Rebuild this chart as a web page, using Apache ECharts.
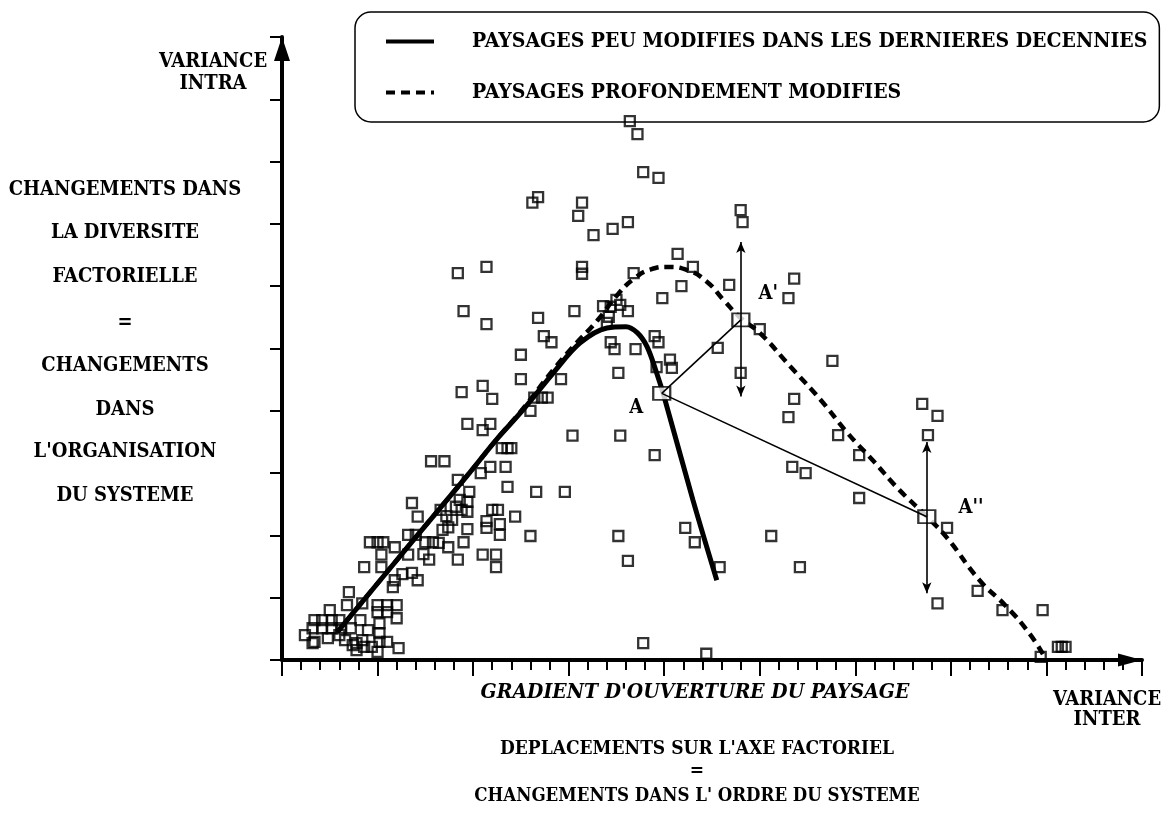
<!DOCTYPE html>
<html>
<head>
<meta charset="utf-8">
<script src="https://cdn.jsdelivr.net/npm/echarts@6/dist/echarts.min.js"></script>
<style>
html,body{margin:0;padding:0;background:#fff;}
#chart{width:1166px;height:813px;}
</style>
</head>
<body>
<div id="chart"></div>
<script>
// ---- data (x in minor-tick units of the factorial axis, y in tick units of variance intra) ----
const legendNames = ['PAYSAGES PEU MODIFIES DANS LES DERNIERES DECENNIES', 'PAYSAGES PROFONDEMENT MODIFIES'];

const lowCluster = [[3.5,1.09],[3.4,0.88],[2.5,0.80],[5.0,0.88],[5.5,0.88],[6.0,0.88],[5.0,0.77],[5.5,0.77],[6.0,0.67],
  [1.7,0.64],[2.1,0.64],[2.6,0.64],[3.0,0.64],[1.6,0.51],[2.1,0.51],[2.6,0.51],[3.6,0.51],[5.1,0.43],[5.1,0.59],
  [1.7,0.29],[3.9,0.27],[4.3,0.21],[4.7,0.21],[5.1,0.29],[5.5,0.29],[3.9,0.16],[5.0,0.13],[1.6,0.27],[3.0,0.40],
  [3.3,0.32],[3.7,0.24],[4.2,0.32],[3.1,0.51],[1.2,0.40],[2.4,0.35],[4.5,0.48],[4.1,0.64],[6.1,0.19],[5.8,1.17],
  [5.9,1.28],[4.2,0.91]];

const riseCluster = [[4.3,1.49],[5.2,1.49],[6.3,1.38],[6.8,1.40],[7.1,1.28],[5.2,1.69],[6.6,1.69],[7.4,1.70],[7.7,1.61],
  [9.2,1.61],[10.5,1.69],[11.2,1.69],[11.2,1.49],[4.6,1.89],[5.0,1.89],[5.3,1.89],[5.9,1.81],[6.6,2.01],[7.0,2.01],
  [7.5,1.89],[7.9,1.89],[8.2,1.88],[8.7,1.81],[9.5,1.89],[8.4,2.09],[8.7,2.13],[9.7,2.10],[10.7,2.23],[10.7,2.12],
  [11.4,2.18],[11.4,2.01],[13.0,1.99],[7.1,2.30],[8.6,2.31],[8.9,2.25],[12.2,2.30],[8.3,2.41],[11.0,2.41],[11.3,2.41],
  [9.1,2.46],[9.4,2.41],[9.7,2.38],[9.3,2.57],[9.7,2.54],[6.8,2.52],[9.8,2.70],[9.2,2.89],[11.8,2.78],[10.4,3.00],
  [10.9,3.10],[11.7,3.10],[11.5,3.40],[11.8,3.40],[12.0,3.40],[7.8,3.19],[8.5,3.19],[13.3,2.70],[14.8,2.70]];

const crestCluster = [[9.7,3.79],[10.9,3.79],[10.5,3.69],[13.0,4.00],[13.2,4.21],[13.6,4.21],[13.9,4.21],[9.4,4.30],
  [10.5,4.40],[11.0,4.19],[12.5,4.51],[14.6,4.51],[12.5,4.90],[13.7,5.20],[14.1,5.10],[13.4,5.49],[9.5,5.60],[10.7,5.39],
  [15.3,5.60],[16.8,5.68],[17.2,5.67],[17.7,5.70],[17.5,5.78],[18.1,5.60],[17.1,5.51],[17.0,5.41],[17.2,5.10],[17.4,4.99],
  [18.5,4.99],[19.5,5.20],[19.7,5.10],[19.6,4.70],[20.3,4.82],[20.4,4.69],[17.6,4.61],[15.2,3.60],[17.7,3.60],[19.5,3.29],
  [9.2,6.21],[10.7,6.31],[15.7,6.31],[15.7,6.20],[18.4,6.21],[19.9,5.81],[13.1,7.34],[13.4,7.43],[15.7,7.34],[15.5,7.13],
  [16.3,6.82],[17.3,6.92],[18.1,7.03],[18.2,8.65],[18.6,8.44],[18.9,7.83],[19.7,7.74]];

const rightCluster = [[20.7,6.52],[21.5,6.31],[20.9,6.00],[23.4,6.02],[24.0,7.22],[24.1,7.03],[26.8,6.12],[26.5,5.81],
  [25.0,5.31],[22.8,5.01],[24.0,4.61],[28.8,4.80],[26.8,4.19],[26.5,3.90],[29.1,3.61],[30.2,3.29],[26.7,3.10],[27.4,3.00],
  [30.2,2.60],[33.5,4.11],[34.3,3.92],[33.8,3.61],[34.8,2.12],[21.1,2.12],[21.6,1.89],[25.6,1.99],[27.1,1.49],[22.9,1.49],
  [34.3,0.91],[36.4,1.11],[37.7,0.80],[39.8,0.80],[40.6,0.21],[40.8,0.21],[41.0,0.21],[39.7,0.05],[17.6,1.99],[18.1,1.59],
  [18.9,0.27],[22.2,0.10]];

const solidCurve = [[2.9,0.45],[6.7,1.86],[9.8,3.00],[11.2,3.53],[12.6,4.01],[14.2,4.61],[15.6,5.09],
  [17.0,5.33],[18.0,5.35],[18.6,5.25],[19.1,5.03],[19.6,4.61],[20.0,4.22],[21.5,2.57],[22.75,1.28]];

const dashedCurve = [[2.9,0.45],[6.7,1.86],[9.8,3.00],[11.2,3.53],[12.6,4.03],[14.2,4.66],[15.2,5.02],
  [16.5,5.45],[17.6,5.88],[18.5,6.14],[19.3,6.27],[20.2,6.31],[21.2,6.26],[22.2,6.08],[23.1,5.78],[24.0,5.49],
  [25.0,5.25],[26.6,4.71],[28.2,4.17],[29.6,3.64],[30.9,3.21],[32.3,2.73],[33.75,2.30],[34.8,1.96],[36.5,1.28],
  [37.9,0.86],[39.1,0.43],[39.9,0.05]];

const centreNames = ['A', "A'", "A''"];
const centres = [[19.87,4.28],[24.01,5.46],[33.74,2.30]];
const spreadA1 = [6.71, 4.23];   // vertical range drawn through A'
const spreadA2 = [3.50, 1.07];   // vertical range drawn through A''

const xTicks = {min:0, max:45, interval:5};
const yTicks = {min:0, max:10, interval:1};

// ---- chart ----
const FONT = "'DejaVu Serif Condensed', 'Liberation Serif', serif";
const chart = echarts.init(document.getElementById('chart'));

function txt(text, x, y, size, italic) {
  return {
    type:'text', x:x, y:y, silent:true,
    style:{text:text, fill:'#000', font:(italic ? 'italic ' : '') + 'bold ' + size + 'px ' + FONT,
           textAlign:'center', textVerticalAlign:'middle'}
  };
}

const labelPos = [
  {position:'left', distance:9, offset:[0,14]},
  {position:'right', distance:8, offset:[0,-26]},
  {position:'right', distance:22, offset:[0,-9]}
];

const option = {
  backgroundColor:'#fff',
  animation:false,
  color:['#000'],
  grid:{left:282, right:24, top:37, bottom:153, containLabel:false},
  legend:{
    data:legendNames, orient:'vertical', left:355, top:12,
    itemWidth:48, itemHeight:20, itemGap:30,
    padding:[19,12,19,29], borderColor:'#000', borderWidth:1.5, borderRadius:16,
    selectedMode:false,
    itemStyle:{opacity:0},
    lineStyle:{width:4, color:'#000'},
    textStyle:{fontFamily:FONT, fontWeight:'bold', fontSize:21, color:'#000', padding:[0,0,0,33]}
  },
  xAxis:{
    type:'value', min:xTicks.min, max:xTicks.max, interval:xTicks.interval,
    axisLine:{show:true, lineStyle:{color:'#000', width:4}, symbol:['none','triangle'], symbolSize:[13,24], symbolOffset:[0,-12]},
    axisTick:{show:true, inside:false, length:16, lineStyle:{color:'#000', width:2}},
    minorTick:{show:true, splitNumber:5, length:10, lineStyle:{color:'#000', width:2}},
    axisLabel:{show:false}, splitLine:{show:false}
  },
  yAxis:{
    type:'value', min:yTicks.min, max:yTicks.max, interval:yTicks.interval,
    axisLine:{show:true, lineStyle:{color:'#000', width:4}, symbol:['none','triangle'], symbolSize:[16,24], symbolOffset:[0,-12]},
    axisTick:{show:true, inside:false, length:12, lineStyle:{color:'#000', width:2}},
    axisLabel:{show:false}, splitLine:{show:false}
  },
  series:[
    {
      type:'scatter', name:'releves', z:2, silent:true,
      data:[].concat(lowCluster, riseCluster, crestCluster, rightCluster),
      symbol:'rect', symbolSize:10,
      itemStyle:{color:'rgba(255,255,255,0)', borderColor:'#000', borderWidth:2.3}
    },
    {
      type:'line', name:legendNames[0], z:3, silent:true,
      data:solidCurve, smooth:0.35, symbol:'none',
      itemStyle:{color:'#000'},
      lineStyle:{color:'#000', width:5}
    },
    {
      type:'line', name:legendNames[1], z:3, silent:true,
      data:dashedCurve, smooth:0.5, symbol:'none',
      itemStyle:{color:'#000'},
      lineStyle:{color:'#000', width:4.5, type:[9,6]}
    },
    {
      type:'scatter', name:'centres', z:4, silent:true,
      symbol:'rect', symbolSize:[17,13],
      itemStyle:{color:'#fff', borderColor:'#000', borderWidth:2},
      label:{show:true, formatter:'{b}', color:'#000', opacity:1, textBorderWidth:0,
             fontFamily:FONT, fontWeight:'bold', fontSize:20},
      data:centres.map(function(c, i){
        return {name:centreNames[i], value:c,
                label:Object.assign({color:'#000', opacity:1, textBorderWidth:0}, labelPos[i])};
      }),
      markLine:{
        silent:true, animation:false, symbol:['none','none'], symbolSize:[7,11],
        label:{show:false}, emphasis:{disabled:true},
        lineStyle:{color:'#000', width:1.6, type:'solid'},
        data:[
          [{coord:centres[0]}, {coord:centres[1]}],
          [{coord:centres[0]}, {coord:centres[2]}],
          [{coord:[centres[1][0], spreadA1[0]], symbol:'arrow'}, {coord:[centres[1][0], spreadA1[1]], symbol:'arrow'}],
          [{coord:[centres[2][0], spreadA2[0]], symbol:'arrow'}, {coord:[centres[2][0], spreadA2[1]], symbol:'arrow'}]
        ]
      }
    }
  ],
  graphic:[
    txt('VARIANCE', 213, 62, 20),
    txt('INTRA', 213, 84, 20),
    txt('CHANGEMENTS DANS', 125, 190, 20),
    txt('LA DIVERSITE', 125, 233, 20),
    txt('FACTORIELLE', 125, 277, 20),
    txt('=', 125, 323, 20),
    txt('CHANGEMENTS', 125, 366, 20),
    txt('DANS', 125, 410, 20),
    txt("L'ORGANISATION", 125, 452, 20),
    txt('DU SYSTEME', 125, 496, 20),
    txt("GRADIENT D'OUVERTURE DU PAYSAGE", 695, 693, 21, true),
    txt('VARIANCE', 1107, 700, 20),
    txt('INTER', 1107, 720, 20),
    txt("DEPLACEMENTS SUR L'AXE FACTORIEL", 697, 749, 19),
    txt('=', 697, 771, 19),
    txt("CHANGEMENTS DANS L' ORDRE DU SYSTEME", 697, 796, 18.5)
  ]
};
chart.setOption(option);
</script>
</body>
</html>
